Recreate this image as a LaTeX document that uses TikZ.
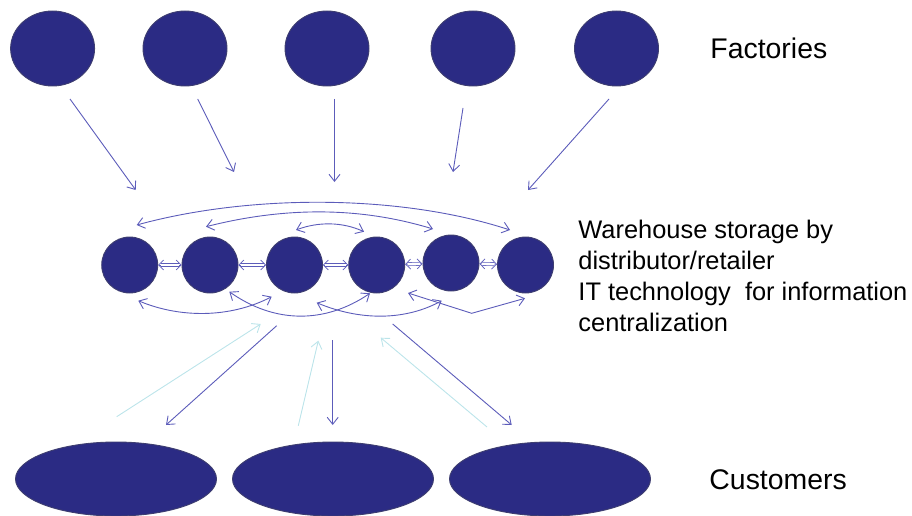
\documentclass[tikz,border=0pt]{standalone}
\usepackage{fontspec}
\setmainfont{Liberation Sans}
\usetikzlibrary{shapes.geometric}
\usetikzlibrary{arrows.meta}
\usetikzlibrary{positioning}

\definecolor{navy}{RGB}{43,43,132}
\definecolor{navyedge}{RGB}{62,62,112}
\definecolor{flowblue}{RGB}{92,92,186}
\definecolor{flowcyan}{RGB}{188,228,234}

\begin{document}
\begin{tikzpicture}[
  x=1pt, y=-1pt,
  every path/.style={line width=0.9pt},
  factory/.style={draw=navyedge,fill=navy,ellipse,minimum width=84pt,minimum height=75pt,inner sep=0},
  store/.style={draw=navyedge,fill=navy,circle,minimum size=56pt,inner sep=0},
  customer/.style={draw=navyedge,fill=navy,ellipse,minimum width=201pt,minimum height=74pt,inner sep=0},
  label/.style={inner sep=0,anchor=west,font=\fontsize{28.4}{31}\selectfont},
  barb/.tip={Straight Barb[length=7pt,width=11pt]},
  ar/.style={draw=flowblue,-barb},
  bar/.style={draw=flowblue,barb-barb},
  back/.style={draw=flowcyan,-barb},
  % short double arrows: barbed tips under a hollow double shaft
  linktip/.style={draw=flowblue,line width=0.7pt,
    {Straight Barb[length=5pt,width=10pt]}-{Straight Barb[length=5pt,width=10pt]}},
  link/.style={draw=flowblue,double=white,double distance=2.6pt,line width=0.6pt,
    shorten <=2.5pt,shorten >=2.5pt},
  ]
  \useasboundingbox (0,0) rectangle (912,516);

  % factories
  \foreach \n/\x in {1/52.6,2/185,3/327,4/473,5/616.5}
    \node[factory] (f\n) at (\x,48.5) {};
  \node[label] (factories) at (710,48.5) {Factories};

  % warehouses
  \foreach \n/\x/\y in {1/129.7/265,2/210/265,3/294.5/265,4/376.7/265,5/451/263,6/525.5/265}
    \node[store] (w\n) at (\x,\y) {};
  \node[label,anchor=north west,align=left,font=\fontsize{25.4}{31}\selectfont] (storage) at (578,219.5)
    {Warehouse storage by\\distributor/retailer\\IT technology\ \ for information\\centralization};

  % customers
  \foreach \n/\x in {1/116,2/333,3/550}
    \node[customer] (c\n) at (\x,479) {};
  \node[label] (customers) at (709,480) {Customers};

  % shipments factory -> warehouse
  \foreach \n/\a/\b/\c/\d in {1/70/99/135.7/190,2/197.7/99/234/172,3/334.5/99/334.5/182,
                              4/463/108/453/172,5/609/99/528/190}{
    \coordinate (fs\n) at (\a,\b);
    \coordinate (fe\n) at (\c,\d);
    \draw[ar] (fs\n) -- (fe\n);
  }

  % neighbour links
  \foreach \i/\j in {1/2,2/3,3/4,4/5,5/6}{
    \draw[linktip] (w\i) -- (w\j);
    \draw[link] (w\i) -- (w\j);
  }

  % exchanges over the top
  \coordinate (ta1) at (136.7,225);  \coordinate (ta2) at (510,230);
  \coordinate (tb1) at (206,226.7);  \coordinate (tb2) at (433,229);
  \coordinate (tc1) at (296,230);    \coordinate (tc2) at (364,231.7);
  \draw[bar] (ta1) .. controls (250,194) and (400,194) .. (ta2);
  \draw[bar] (tb1) .. controls (285,206.7) and (360,206.7) .. (tb2);
  \draw[bar] (tc1) .. controls (318,221.7) and (342,221.7) .. (tc2);

  % exchanges underneath
  \coordinate (ba1) at (138.3,300.7); \coordinate (ba2) at (271.7,296.7);
  \coordinate (bb1) at (229.3,291.7); \coordinate (bb2) at (370,293.3);
  \coordinate (bc1) at (316.7,302.7); \coordinate (bc2) at (441.7,300.7);
  \coordinate (bd1) at (408,293);     \coordinate (bd0) at (471.7,313.3);
  \coordinate (bd2) at (525,298.3);
  \draw[bar] (ba1) .. controls (180,318.2) and (230,318.2) .. (ba2);
  \draw[bar] (bb1) .. controls (275,323.8) and (325,323.8) .. (bb2);
  \draw[bar] (bc1) .. controls (360,320.8) and (405,320.8) .. (bc2);
  \draw[bar] (bd1) -- (bd0) -- (bd2);

  % warehouse <-> customers
  \coordinate (ds1) at (276.7,325.7); \coordinate (de1) at (166,425);
  \coordinate (ds2) at (332.7,340);   \coordinate (de2) at (332.7,425);
  \coordinate (ds3) at (392.7,324);   \coordinate (de3) at (511.7,425);
  \coordinate (us1) at (116.7,416.7); \coordinate (ue1) at (260.7,324);
  \coordinate (us2) at (298.3,425.7); \coordinate (ue2) at (318.3,340.7);
  \coordinate (us3) at (487,427);     \coordinate (ue3) at (380.7,337.7);
  \foreach \n in {1,2,3}{
    \draw[ar] (ds\n) -- (de\n);
    \draw[back] (us\n) -- (ue\n);
  }
\end{tikzpicture}
\end{document}
